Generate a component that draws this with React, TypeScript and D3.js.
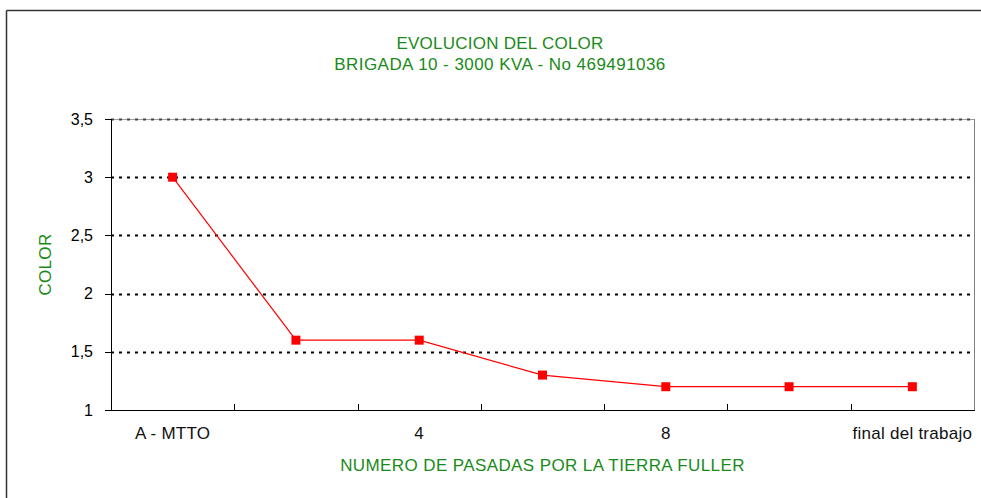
import React from "react";
import * as d3 from "d3";

const categories = ["A - MTTO", "2", "4", "6", "8", "10", "final del trabajo"];
const shownLabels = ["A - MTTO", "", "4", "", "8", "", "final del trabajo"];
const colorValues = [3, 1.6, 1.6, 1.3, 1.2, 1.2, 1.2];
const yTicks = [1, 1.5, 2, 2.5, 3, 3.5];
const titleLines = ["EVOLUCION DEL COLOR", "BRIGADA 10 - 3000 KVA - No 469491036"];
const xTitle = "NUMERO DE PASADAS POR LA TIERRA FULLER";
const yTitle = "COLOR";

const W = 981;
const H = 498;
const left = 111;
const right = 974;
const top = 119;
const bottom = 410;
const font = "'Liberation Sans', Arial, sans-serif";
const green = "#1a8a1a";

export default function App() {
  const x = d3.scaleBand<string>().domain(categories).range([left, right]).padding(0);
  const y = d3.scaleLinear().domain([1, 3.5]).range([bottom, top]);
  const line = d3
    .line<number>()
    .x((_, i) => (x(categories[i]) as number) + x.bandwidth() / 2)
    .y((d) => y(d));
  const fmt = (v: number) => String(v).replace(".", ",");
  const boundaries = categories.map((c) => (x(c) as number) + x.bandwidth()).slice(0, -1);

  return (
    <svg
      width={W}
      height={H}
      style={{ position: "absolute", left: 0, top: 0, background: "#fff" }}
      fontFamily={font}
    >
      {/* outer frame */}
      <line x1={6.5} y1={10.5} x2={W} y2={10.5} stroke="#333" strokeWidth={1.5} />
      <line x1={6.5} y1={10.5} x2={6.5} y2={H} stroke="#333" strokeWidth={1.5} />

      {/* titles */}
      {titleLines.map((t, i) => (
        <text
          key={i}
          x={500}
          y={48.5 + i * 21.5}
          textAnchor="middle"
          fontSize={17}
          letterSpacing={i === 0 ? 0.25 : 0.45}
          fill={green}
        >
          {t}
        </text>
      ))}

      {/* plot border */}
      <line x1={left} y1={top + 0.5} x2={right} y2={top + 0.5} stroke="#a0a0a0" strokeWidth={1} />
      <line x1={right + 0.5} y1={top} x2={right + 0.5} y2={bottom} stroke="#808080" strokeWidth={1} />

      {/* gridlines */}
      {yTicks.slice(1).map((t) => (
        <line
          key={t}
          x1={left}
          x2={right}
          y1={Math.round(y(t)) + 0.5}
          y2={Math.round(y(t)) + 0.5}
          stroke={t === 3.5 ? "#444" : "#000"}
          strokeWidth={2}
          strokeDasharray="3,5"
        />
      ))}

      {/* axes */}
      <line x1={left + 0.5} y1={top} x2={left + 0.5} y2={bottom + 0.5} stroke="#000" strokeWidth={1} />
      <line x1={left} y1={bottom + 0.5} x2={right + 1} y2={bottom + 0.5} stroke="#000" strokeWidth={1} />
      {yTicks.map((t) => (
        <g key={t}>
          <line x1={105} x2={left} y1={Math.round(y(t)) + 0.5} y2={Math.round(y(t)) + 0.5} stroke="#000" />
          <text x={93} y={y(t) + 5.5} textAnchor="end" fontSize={16} fill="#000">
            {fmt(t)}
          </text>
        </g>
      ))}
      {boundaries.map((b, i) => (
        <line key={i} x1={Math.round(b) + 0.5} x2={Math.round(b) + 0.5} y1={bottom - 6} y2={bottom} stroke="#000" />
      ))}
      {categories.map((c, i) => (
        <text
          key={c}
          x={(x(c) as number) + x.bandwidth() / 2}
          y={439}
          textAnchor="middle"
          fontSize={17}
          letterSpacing={0.25}
          fill="#111"
        >
          {shownLabels[i]}
        </text>
      ))}

      {/* axis titles */}
      <text
        x={(left + right) / 2}
        y={470.5}
        textAnchor="middle"
        fontSize={17}
        letterSpacing={0.4}
        fill={green}
      >
        {xTitle}
      </text>
      <text
        transform={`translate(51, ${(top + bottom) / 2}) rotate(-90)`}
        textAnchor="middle"
        fontSize={17}
        letterSpacing={0.3}
        fill={green}
      >
        {yTitle}
      </text>

      {/* series */}
      <path d={line(colorValues) || ""} fill="none" stroke="#ff0000" strokeWidth={1.2} />
      {colorValues.map((v, i) => {
        const cx = (x(categories[i]) as number) + x.bandwidth() / 2;
        return <rect key={i} x={cx - 4.5} y={y(v) - 4.5} width={9} height={9} fill="#ff0000" />;
      })}
    </svg>
  );
}
